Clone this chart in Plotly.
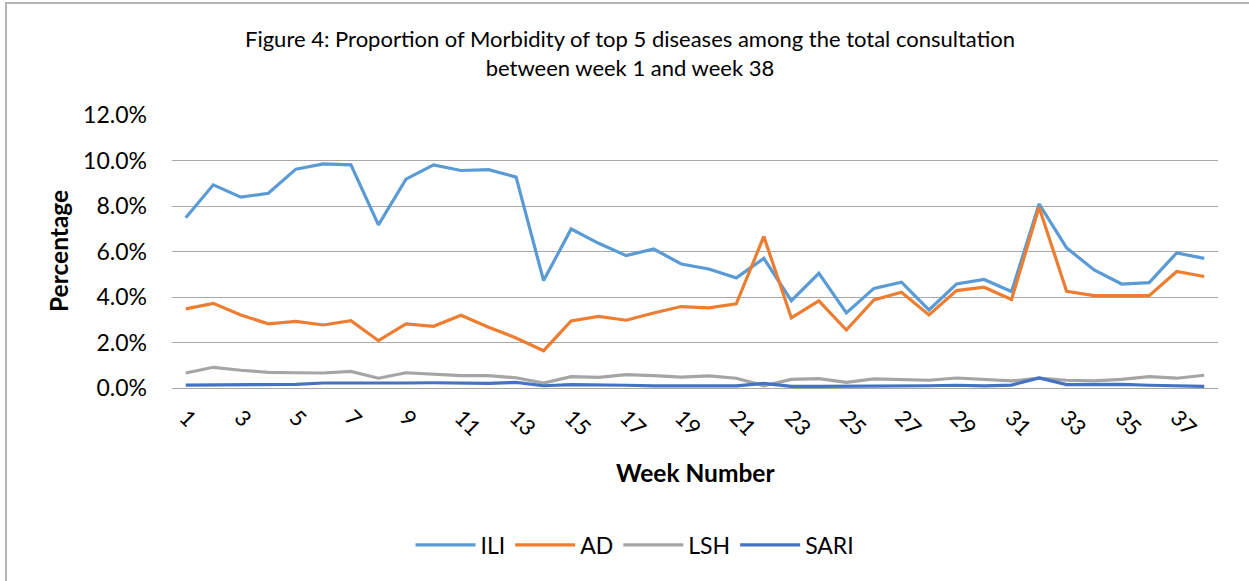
import plotly.graph_objects as go

weeks = list(range(1, 39))

ili = [7.48, 8.93, 8.39, 8.56, 9.62, 9.85, 9.81, 7.17, 9.18, 9.81,
       9.56, 9.60, 9.27, 4.72, 6.99, 6.36, 5.82, 6.11, 5.45, 5.23,
       4.84, 5.70, 3.84, 5.04, 3.30, 4.38, 4.65, 3.43, 4.57, 4.77,
       4.24, 8.09, 6.16, 5.19, 4.57, 4.63, 5.94, 5.70]
ad = [3.48, 3.72, 3.21, 2.82, 2.93, 2.77, 2.96, 2.08, 2.82, 2.71,
      3.20, 2.67, 2.20, 1.64, 2.95, 3.15, 2.98, 3.30, 3.58, 3.52,
      3.70, 6.66, 3.08, 3.83, 2.55, 3.87, 4.21, 3.21, 4.28, 4.43,
      3.89, 7.95, 4.25, 4.06, 4.06, 4.06, 5.12, 4.90]
lsh = [0.66, 0.91, 0.78, 0.69, 0.67, 0.66, 0.73, 0.43, 0.67, 0.62,
       0.54, 0.54, 0.45, 0.22, 0.50, 0.47, 0.59, 0.54, 0.48, 0.53,
       0.43, 0.10, 0.38, 0.41, 0.25, 0.40, 0.36, 0.34, 0.44, 0.38,
       0.31, 0.43, 0.34, 0.31, 0.38, 0.50, 0.43, 0.56]
sari = [0.13, 0.13, 0.13, 0.13, 0.16, 0.22, 0.22, 0.19, 0.22, 0.23,
        0.23, 0.20, 0.25, 0.10, 0.15, 0.15, 0.12, 0.09, 0.09, 0.09,
        0.09, 0.20, 0.07, 0.07, 0.07, 0.10, 0.09, 0.10, 0.12, 0.09,
        0.13, 0.44, 0.15, 0.15, 0.16, 0.12, 0.09, 0.07]

series = [("ILI", ili, "#5B9BD5"), ("AD", ad, "#ED7D31"),
          ("LSH", lsh, "#A5A5A5"), ("SARI", sari, "#4472C4")]

tick_weeks = [w for w in weeks if w % 2 == 1]
y_ticks = [0, 0.02, 0.04, 0.06, 0.08, 0.10, 0.12]

FONT = "Lato"

fig = go.Figure()
for name, vals, color in series:
    fig.add_trace(go.Scatter(
        x=weeks, y=[v / 100 for v in vals], name=name, mode="lines",
        line=dict(color=color, width=3.2),
    ))

W, H = 1249, 581
L, R, T, B = 172, 31, 115, 193
pw, ph = W - L - R, H - T - B

def px(x):
    return (x - L) / pw

def py(y):
    return (H - B - y) / ph

fig.update_layout(
    width=W, height=H,
    margin=dict(l=L, r=R, t=T, b=B),
    paper_bgcolor="white", plot_bgcolor="white",
    font=dict(family=FONT, color="#000000", size=22),
    showlegend=True,
    legend=dict(orientation="h", x=px(635), xanchor="center", y=py(545), yanchor="middle",
                font=dict(size=23, family=FONT), itemwidth=60, traceorder="normal",
                bgcolor="rgba(0,0,0,0)"),
    xaxis=dict(range=[0.5, 38.5], tickmode="array", tickvals=tick_weeks,
               ticktext=[str(w) for w in tick_weeks], tickangle=45,
               showgrid=False, zeroline=False, showline=True,
               linecolor="#A6A6A6", linewidth=1, ticks="",
               ticklabelstandoff=7,
               tickfont=dict(size=22, family=FONT)),
    yaxis=dict(range=[0, 0.12], tickvals=y_ticks, tickformat=".1%",
               showgrid=True, gridcolor="#A8A8A8", gridwidth=1,
               zeroline=False, showline=False, ticks="",
               ticklen=0, ticklabelstandoff=24,
               tickfont=dict(size=23, family=FONT)),
    annotations=[
        dict(text="Figure 4: Proportion of Morbidity of top 5 diseases among the total consultation<br>between week 1 and week 38",
             x=px(630), y=py(53), xref="paper", yref="paper", xanchor="center", yanchor="middle",
             showarrow=False, font=dict(size=22, family=FONT)),
        dict(text="<b>Week Number</b>", x=px(695), y=py(472), xref="paper", yref="paper",
             xanchor="center", yanchor="middle", showarrow=False, font=dict(size=24.5, family=FONT)),
        dict(text="<b>Percentage</b>", x=px(58), y=py(251), xref="paper", yref="paper",
             xanchor="center", yanchor="middle", textangle=-90, showarrow=False,
             font=dict(size=24.5, family=FONT)),
    ],
    shapes=[
        dict(type="rect", xref="paper", yref="paper", x0=px(6), y0=py(3), x1=px(1300), y1=py(640),
             line=dict(color="#B5B5B5", width=2), fillcolor="rgba(0,0,0,0)", layer="below"),
    ],
)

fig.write_html("out.html", config={"displayModeBar": False},
               post_script="document.body.style.margin='0px';")
